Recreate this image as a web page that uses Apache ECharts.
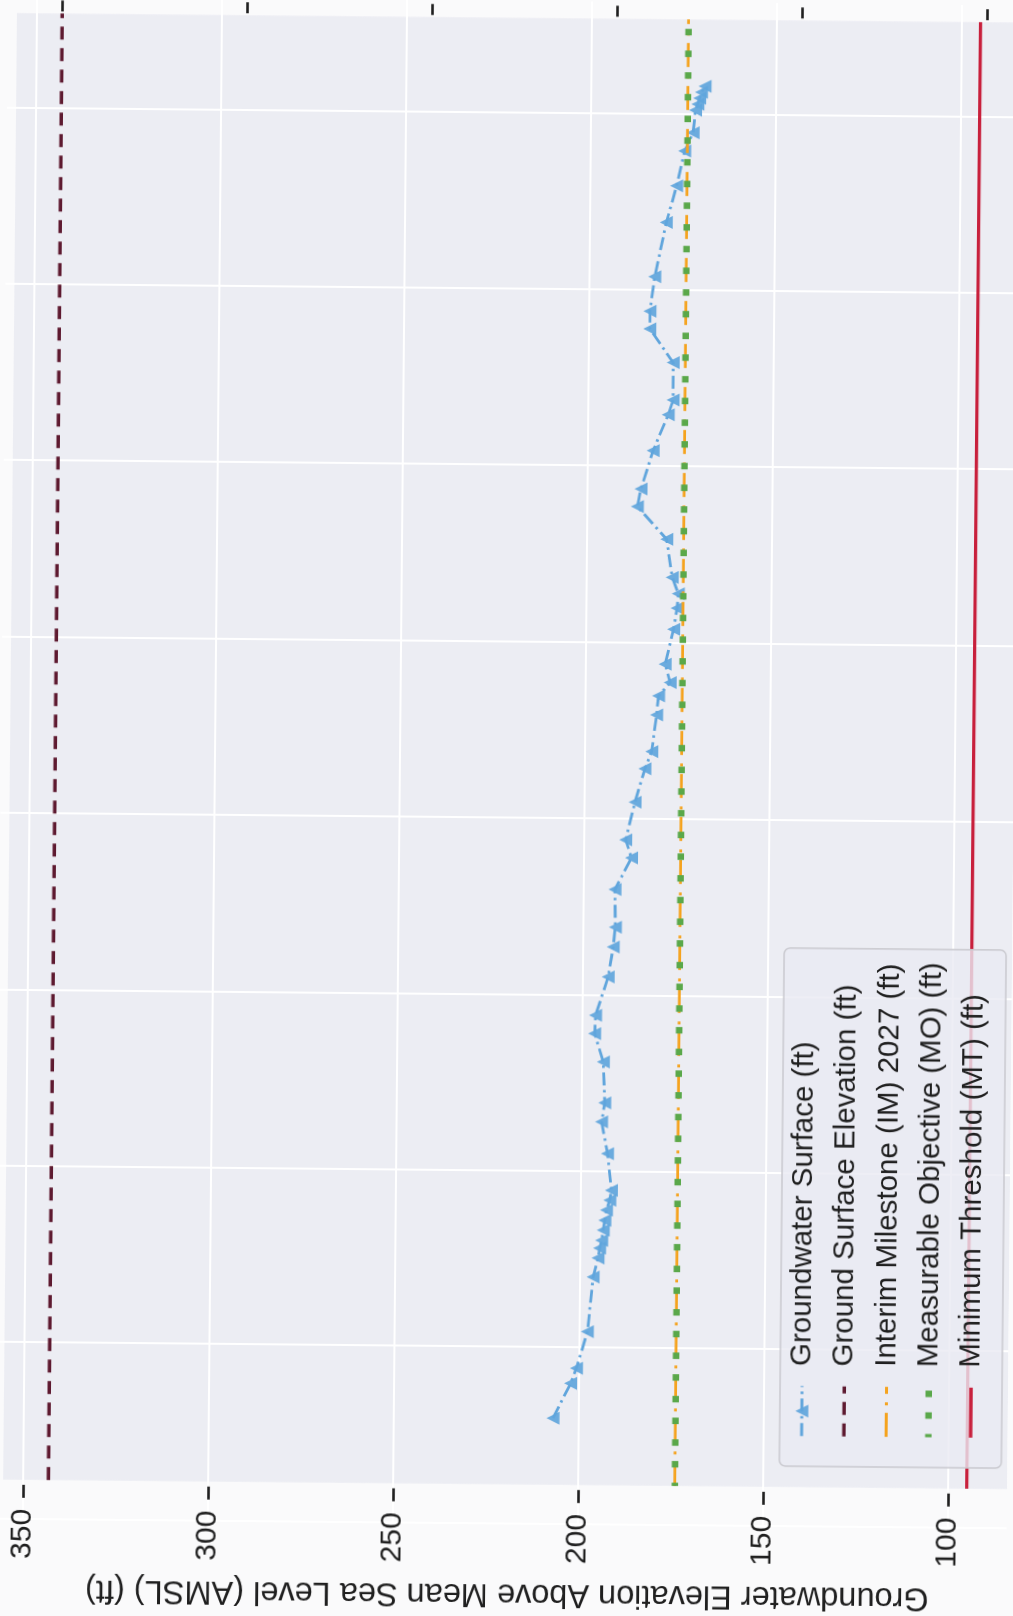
<!DOCTYPE html>
<html>
<head>
<meta charset="utf-8">
<title>Groundwater Elevation Hydrograph</title>
<script src="https://cdn.jsdelivr.net/npm/echarts@6/dist/echarts.min.js"></script>
<style>
  html, body { margin: 0; padding: 0; width: 1013px; height: 1616px; overflow: hidden; background: #fafafb; }
  /* The hydrograph is laid out landscape and turned a quarter turn on the page */
  #chart {
    position: absolute;
    left: -301.5px; top: 301.5px;
    width: 1616px; height: 1013px;
    transform-origin: 50% 50%;
    transform: rotate(-89.46deg);
  }
</style>
</head>
<body>
<div id="chart"></div>
<script>
// ---- Observed groundwater surface (decimal year, ft AMSL) ----
const obsYears = [
  1983.00, 1983.99, 1984.42, 1985.46, 1987.01, 1987.55, 1987.83, 1988.05, 1988.34, 1988.62,
  1988.91, 1989.19, 1989.47, 1990.51, 1991.41, 1991.95, 1993.11, 1993.91, 1994.43, 1995.52,
  1996.37, 1996.93, 1998.00, 1998.90, 1999.41, 2000.48, 2001.43, 2001.92, 2002.96, 2003.50,
  2003.88, 2004.40, 2005.39, 2005.99, 2006.40, 2006.86, 2007.94, 2008.86, 2009.36, 2010.45,
  2011.47, 2011.89, 2012.95, 2013.90, 2014.40, 2015.38, 2016.92, 2017.96, 2018.95, 2019.47,
  2020.11, 2020.28, 2020.45, 2020.62, 2020.79
];
const gwElevation = [
  207.0, 202.3, 200.8, 197.9, 196.5, 195.2, 194.8, 194.3, 193.9, 193.5,
  193.1, 192.2, 191.8, 192.9, 194.6, 193.8, 194.3, 196.7, 196.5, 193.2,
  191.9, 191.4, 191.6, 187.2, 188.8, 186.4, 183.8, 182.0, 180.8, 180.3,
  177.2, 178.6, 176.4, 175.5, 175.2, 176.9, 178.5, 186.5, 185.6, 182.4,
  178.4, 177.1, 177.2, 183.6, 183.6, 182.4, 179.4, 176.7, 174.6, 172.4,
  171.8, 171.2, 170.7, 170.2, 169.3
];

// ---- Reference elevations (ft AMSL) ----
const groundSurfaceElevation = 343.2;
const interimMilestone2027 = 173.9;
const measurableObjective = 173.9;
const minimumThreshold = 95.0;

// ---- Axis extents and ticks ----
const xLimits = [1981.11, 2022.68];      // plotted time span
const yLimits = [82.6, 355.4];           // plotted elevation span
const elevTickStep = 50;                 // left axis: 100 ... 350 ft
const depthTicks = [0, 50, 100, 150, 200, 250];   // right axis: depth below ground surface
const yearTickStep = 5;

const seriesNames = [
  'Groundwater Surface (ft)',
  'Ground Surface Elevation (ft)',
  'Interim Milestone (IM) 2027 (ft)',
  'Measurable Objective (MO) (ft)',
  'Minimum Threshold (MT) (ft)'
];
const axisTitle = 'Groundwater Elevation Above Mean Sea Level (AMSL) (ft)';

const FONT = '"Liberation Sans", Arial, Helvetica, sans-serif';
const INK = '#1f1f1f';
const GW_BLUE = '#60a5dc';

const gwPoints = obsYears.map((t, i) => [t, gwElevation[i]]);
const flatLine = v => xLimits.map(t => [t, v]);

// legend keys: only the observed series carries a marker
const legendItems = seriesNames.map((name, i) =>
  i === 0 ? { name } : { name, itemStyle: { opacity: 0 } });

const chart = echarts.init(document.getElementById('chart'), null, { renderer: 'canvas' });

chart.setOption({
  animation: false,
  backgroundColor: 'transparent',
  // grid is wider/taller than the visible axes so that ticks fall on round values
  grid: {
    left: 93.0, right: -64.6, top: -155.9, bottom: -126.1,
    outerBoundsMode: 'none', containLabel: false
  },
  xAxis: {
    type: 'value',
    min: 1980, max: 2025, interval: yearTickStep,
    axisLine: { show: false },
    axisTick: { show: false },
    axisLabel: { show: false },
    splitLine: { show: true, lineStyle: { color: '#ffffff', width: 2 } }
  },
  yAxis: [
    {
      type: 'value',
      position: 'left',
      min: 50, max: 400, interval: elevTickStep,
      axisLine: { show: false },
      axisTick: { show: true, length: 13, lineStyle: { color: INK, width: 2.6 } },
      axisLabel: { show: true, margin: 24, fontSize: 30, fontFamily: FONT, color: INK },
      splitLine: { show: true, lineStyle: { color: '#ffffff', width: 2 } }
    },
    {
      type: 'value',
      position: 'right',
      inverse: true,
      min: groundSurfaceElevation - 400,
      max: groundSurfaceElevation - 50,
      axisLine: { show: false },
      axisTick: { show: true, length: 11, customValues: depthTicks, lineStyle: { color: INK, width: 2.6 } },
      axisLabel: { show: false },
      splitLine: { show: false }
    }
  ],
  legend: {
    orient: 'vertical',
    left: 153, top: 785,
    padding: [6, 13, 15, 27],
    itemWidth: 50, itemHeight: 16, itemGap: 10.25,
    backgroundColor: 'rgba(234,234,242,0.8)',
    borderColor: '#c9c9cf', borderWidth: 1.5, borderRadius: 6,
    selectedMode: false,
    textStyle: { fontSize: 29.5, lineHeight: 32, color: INK, fontFamily: FONT, padding: [0, 0, 0, 15] },
    lineStyle: { width: 'inherit', type: 'inherit' },
    data: legendItems
  },
  series: [
    {
      name: seriesNames[0], type: 'line', data: gwPoints,
      symbol: 'triangle', symbolSize: 13, showAllSymbol: true,
      lineStyle: { color: GW_BLUE, width: 2.8, type: [13, 4.5, 2.5, 4.5] },
      itemStyle: { color: GW_BLUE, opacity: 0.92 },
      emphasis: { disabled: true }, silent: true, z: 2
    },
    {
      name: seriesNames[1], type: 'line', data: flatLine(groundSurfaceElevation),
      symbol: 'none',
      lineStyle: { color: '#5e1a30', width: 3.3, type: [13, 8.5] },
      itemStyle: { color: '#5e1a30' },
      emphasis: { disabled: true }, silent: true, z: 3
    },
    {
      name: seriesNames[2], type: 'line', data: flatLine(interimMilestone2027),
      symbol: 'none',
      lineStyle: { color: '#f5a31e', width: 2.8, type: [24, 7.5, 3, 8.5] },
      itemStyle: { color: '#f5a31e' },
      emphasis: { disabled: true }, silent: true, z: 3
    },
    {
      name: seriesNames[3], type: 'line', data: flatLine(measurableObjective),
      symbol: 'none',
      lineStyle: { color: '#5aa84a', width: 6.5, type: [6.5, 15.2], dashOffset: 3.25 },
      itemStyle: { color: '#5aa84a' },
      emphasis: { disabled: true }, silent: true, z: 3
    },
    {
      name: seriesNames[4], type: 'line', data: flatLine(minimumThreshold),
      symbol: 'none',
      lineStyle: { color: '#c8203c', width: 3.3, type: 'solid' },
      itemStyle: { color: '#c8203c' },
      emphasis: { disabled: true }, silent: true, z: 3
    }
  ]
});

// Place the axes on the edges of the plotted span and paint the plot face
const px = v => chart.convertToPixel({ xAxisIndex: 0 }, v);
const py = v => chart.convertToPixel({ yAxisIndex: 0 }, v);
const gridL = px(1980), gridR = px(2025);
const plotL = px(xLimits[0]), plotR = px(xLimits[1]);
const plotT = py(yLimits[1]), plotB = py(yLimits[0]);

chart.setOption({
  yAxis: [
    { offset: -(plotL - gridL) + 5 },
    { offset: -(gridR - plotR) + 2 }
  ],
  graphic: {
    elements: [
      {
        type: 'rect', z: -10, silent: true,
        shape: { x: plotL, y: plotT, width: plotR - plotL, height: plotB - plotT },
        style: { fill: '#ecedf3' }
      },
      {
        type: 'text', z: 10, silent: true,
        x: 23, y: py((yLimits[0] + yLimits[1]) / 2),
        rotation: Math.PI / 2,
        style: {
          text: axisTitle, fontSize: 32.5, fontFamily: FONT, fill: INK,
          align: 'center', verticalAlign: 'middle',
          textAlign: 'center', textVerticalAlign: 'middle'
        }
      }
    ]
  }
});
</script>
</body>
</html>
